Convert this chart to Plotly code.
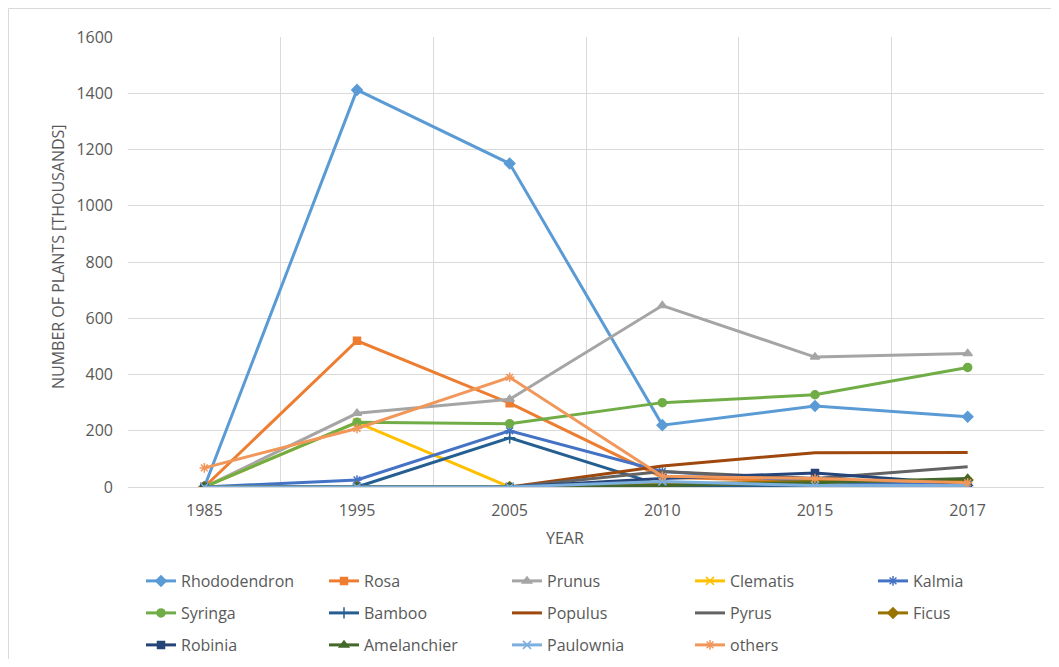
import plotly.graph_objects as go

years = ["1985", "1995", "2005", "2010", "2015", "2017"]

rhododendron = [0, 1412, 1150, 220, 288, 250]
rosa = [0, 520, 298, 35, 20, 15]
prunus = [0, 262, 312, 645, 462, 475]
clematis = [0, 230, 0, 0, 20, 20]
kalmia = [0, 25, 200, 55, 20, 5]
syringa = [0, 230, 225, 300, 328, 425]
bamboo = [0, 0, 175, 5, 5, 5]
populus = [0, 0, 0, 75, 122, 123]
pyrus = [0, 0, 0, 55, 30, 72]
ficus = [0, 0, 0, 10, 20, 25]
robinia = [0, 0, 0, 30, 50, 10]
amelanchier = [0, 0, 0, 5, 15, 30]
paulownia = [0, 0, 0, 20, 5, 5]
others = [68, 208, 390, 38, 30, 15]

series = [
    ("Rhododendron", rhododendron, "#5B9BD5", "diamond", 8, "legend"),
    ("Rosa", rosa, "#ED7D31", "square", 7, "legend"),
    ("Prunus", prunus, "#A5A5A5", "triangle-up", 8, "legend"),
    ("Clematis", clematis, "#FFC000", "x-thin-open", 8, "legend"),
    ("Kalmia", kalmia, "#4472C4", "asterisk-open", 8, "legend"),
    ("Syringa", syringa, "#70AD47", "circle", 8, "legend2"),
    ("Bamboo", bamboo, "#255E91", "cross-thin-open", 8, "legend2"),
    ("Populus", populus, "#9E480E", None, 0, "legend2"),
    ("Pyrus", pyrus, "#636363", None, 0, "legend2"),
    ("Ficus", ficus, "#997300", "diamond", 8, "legend2"),
    ("Robinia", robinia, "#264478", "square", 7, "legend3"),
    ("Amelanchier", amelanchier, "#43682B", "triangle-up", 8, "legend3"),
    ("Paulownia", paulownia, "#7CAFDD", "x-thin-open", 8, "legend3"),
    ("others", others, "#F1975A", "asterisk-open", 8, "legend3"),
]

fig = go.Figure()
for name, vals, color, sym, size, leg in series:
    if sym is None:
        mode = "lines"
        marker = dict()
    else:
        mode = "lines+markers"
        marker = dict(symbol=sym, size=size, color=color,
                      line=dict(color=color, width=1.5))
    fig.add_trace(go.Scatter(
        x=years, y=vals, name=name, mode=mode, legend=leg,
        line=dict(color=color, width=3), marker=marker,
    ))

# body has an 8px margin in the page, so the figure is 16px smaller
W, H = 1043, 651
L, R, T, B = 120, 7, 29, 172
pw = W - L - R
ph = H - T - B
bottom = T + ph

FONT = "Open Sans, Liberation Sans, sans-serif"
GRAY = "#595959"
FS = 16


def leg(py):
    return dict(
        orientation="h", x=(133 - L) / pw, xanchor="left",
        y=(bottom - py) / ph, yanchor="middle",
        entrywidth=138, entrywidthmode="pixels",
        font=dict(family=FONT, size=FS, color=GRAY),
        itemwidth=30, bgcolor="rgba(0,0,0,0)",
    )


fig.update_layout(
    width=W, height=H,
    margin=dict(l=L, r=R, t=T, b=B, autoexpand=False),
    paper_bgcolor="white", plot_bgcolor="white",
    font=dict(family=FONT, size=FS, color=GRAY),
    showlegend=True,
    legend=leg(573),
    legend2=leg(605),
    legend3=leg(637),
    xaxis=dict(
        type="category", tickson="boundaries", range=[-0.5, 5.5],
        showgrid=True, gridcolor="#D9D9D9", gridwidth=1,
        showline=False, ticks="", zeroline=False, ticklabelstandoff=12,
        tickfont=dict(family=FONT, size=FS, color=GRAY),
    ),
    yaxis=dict(
        range=[0, 1600], dtick=200, showgrid=True, gridcolor="#D9D9D9",
        zeroline=True, zerolinecolor="#D9D9D9", zerolinewidth=1,
        showline=False, ticks="", ticklabelstandoff=14,
        tickfont=dict(family=FONT, size=FS, color=GRAY),
    ),
    annotations=[
        dict(text="NUMBER OF PLANTS [THOUSANDS]", xref="paper", yref="paper",
             x=(50 - L) / pw, y=(bottom - 249) / ph, textangle=-90, showarrow=False,
             font=dict(family=FONT, size=FS, color=GRAY),
             xanchor="center", yanchor="middle"),
        dict(text="YEAR", xref="paper", yref="paper",
             x=(557 - L) / pw, y=(bottom - 530) / ph, showarrow=False,
             font=dict(family=FONT, size=FS, color=GRAY),
             xanchor="center", yanchor="middle"),
    ],
    shapes=[
        dict(type="line", xref="paper", yref="paper",
             x0=(0.5 - L) / pw, x1=(0.5 - L) / pw,
             y0=(bottom - H) / ph, y1=(bottom - 0.5) / ph,
             line=dict(color="#D9D9D9", width=1), layer="below"),
        dict(type="line", xref="paper", yref="paper",
             x0=(0.5 - L) / pw, x1=(W - L) / pw,
             y0=(bottom - 0.5) / ph, y1=(bottom - 0.5) / ph,
             line=dict(color="#D9D9D9", width=1), layer="below"),
    ],
)

fig.write_html("out.html")
